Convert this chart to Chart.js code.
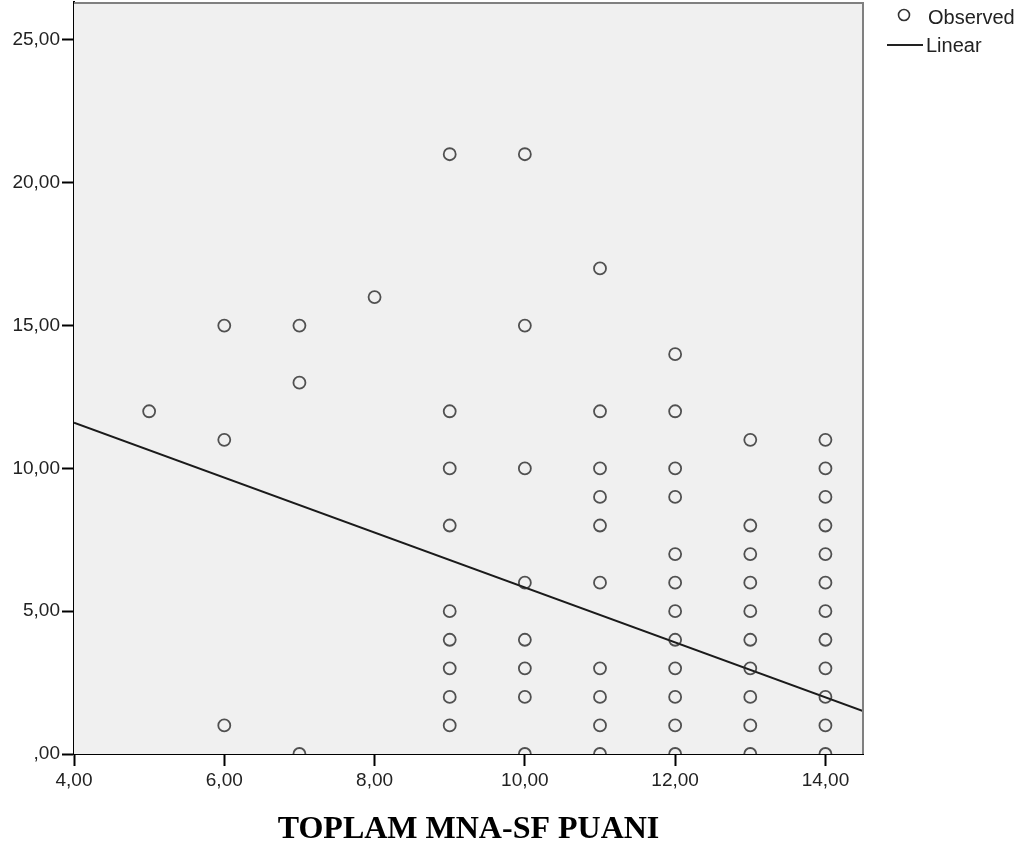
<!DOCTYPE html>
<html>
<head>
<meta charset="utf-8">
<script src="https://cdn.jsdelivr.net/npm/chart.js@4.4.0/dist/chart.umd.min.js"></script>
<style>
  html, body { margin: 0; padding: 0; background: #fff; }
  canvas { display: block; }
</style>
</head>
<body>
<canvas id="myChart" width="1027" height="855"></canvas>
<script>
// observed values, one column of y values per x score
const xScores = [5, 6, 7, 8, 9, 10, 11, 12, 13, 14];
const yByScore = [
    [12],
    [15, 11, 1],
    [15, 13, 0],
    [16],
    [21, 12, 10, 8, 5, 4, 3, 2, 1],
    [21, 15, 10, 6, 4, 3, 2, 0],
    [17, 12, 10, 9, 8, 6, 3, 2, 1, 0],
    [14, 12, 10, 9, 7, 6, 5, 4, 3, 2, 1, 0],
    [11, 8, 7, 6, 5, 4, 3, 2, 1, 0],
    [11, 10, 9, 8, 7, 6, 5, 4, 3, 2, 1, 0]
];
// fitted line end points
const lineX = [4, 14.5];
const lineY = [11.6, 1.5];

const xTicks = [4, 6, 8, 10, 12, 14];
const yTicks = [0, 5, 10, 15, 20, 25];

const observed = [];
xScores.forEach(function (x, i) {
    yByScore[i].forEach(function (y) { observed.push({ x: x, y: y }); });
});
const linear = lineX.map(function (x, i) { return { x: x, y: lineY[i] }; });

function fmt(v) {
    const s = v.toFixed(2).replace('.', ',');
    return s.startsWith('0,') ? s.slice(1) : s;
}

const sans = '"Liberation Sans", Arial, sans-serif';

// plot background, grey top/right frame and the SPSS-like legend
const spssLook = {
    id: 'spssLook',
    beforeDatasetsDraw(chart) {
        const a = chart.chartArea, c = chart.ctx;
        c.save();
        c.fillStyle = '#f0f0f0';
        c.fillRect(a.left, a.top, a.right - a.left, a.bottom - a.top);
        c.restore();
    },
    afterDraw(chart) {
        const a = chart.chartArea, c = chart.ctx;
        c.save();
        c.strokeStyle = '#808080';
        c.lineWidth = 2;
        c.beginPath();
        c.moveTo(a.left, a.top + 1);
        c.lineTo(a.right, a.top + 1);
        c.lineTo(a.right, a.bottom);
        c.stroke();

        // legend
        const ds = chart.data.datasets;
        c.font = '20px ' + sans;
        c.fillStyle = '#222';
        c.textBaseline = 'middle';
        c.strokeStyle = '#333';
        c.lineWidth = 1.6;
        c.beginPath();
        c.arc(904, 15, 5.5, 0, Math.PI * 2);
        c.stroke();
        c.fillText(ds[0].label, 928, 18);
        c.lineWidth = 2;
        c.strokeStyle = '#222';
        c.beginPath();
        c.moveTo(887, 45);
        c.lineTo(923, 45);
        c.stroke();
        c.fillText(ds[1].label, 926, 46);
        c.restore();
    }
};

const ctx = document.getElementById('myChart').getContext('2d');
const myChart = new Chart(ctx, {
    type: 'scatter',
    data: {
        datasets: [{
            label: 'Observed',
            data: observed,
            pointRadius: 6,
            pointHoverRadius: 6,
            pointBorderWidth: 1.8,
            borderColor: 'rgba(40, 40, 40, 0.8)',
            backgroundColor: 'rgba(0, 0, 0, 0)'
        }, {
            type: 'line',
            label: 'Linear',
            data: linear,
            borderColor: '#1a1a1a',
            borderWidth: 2,
            pointRadius: 0,
            fill: false
        }]
    },
    plugins: [spssLook],
    options: {
        responsive: false,
        animation: false,
        layout: { autoPadding: false, padding: { top: 2, right: 164, left: 0, bottom: 0 } },
        scales: {
            x: {
                type: 'linear',
                min: 4,
                max: 14.5,
                afterFit(scale) { scale.height = 101; scale.paddingRight = 0; scale.paddingLeft = 0; },
                afterBuildTicks(scale) { scale.ticks = xTicks.map(v => ({ value: v })); },
                ticks: {
                    callback: v => fmt(v),
                    color: '#222',
                    font: { size: 19, family: sans },
                    padding: 3,
                    maxRotation: 0
                },
                grid: { drawOnChartArea: false, tickLength: 12, tickColor: '#000', tickWidth: 2 },
                border: { color: '#000', width: 2 },
                title: {
                    display: true,
                    text: 'TOPLAM MNA-SF PUANI',
                    color: '#000',
                    font: { size: 32, weight: 'bold', family: '"Liberation Serif", "Times New Roman", serif' },
                    padding: { top: 0, bottom: 6 }
                }
            },
            y: {
                type: 'linear',
                min: 0,
                max: 26.33,
                afterFit(scale) { scale.width = 74; scale.paddingTop = 0; scale.paddingBottom = 0; },
                afterBuildTicks(scale) { scale.ticks = yTicks.map(v => ({ value: v })); },
                ticks: {
                    callback: v => fmt(v),
                    color: '#222',
                    font: { size: 19, family: sans },
                    padding: 2
                },
                grid: { drawOnChartArea: false, tickLength: 12, tickColor: '#000', tickWidth: 2 },
                border: { color: '#000', width: 2 }
            }
        },
        plugins: {
            legend: { display: false },
            tooltip: { enabled: false }
        }
    }
});
</script>
</body>
</html>
